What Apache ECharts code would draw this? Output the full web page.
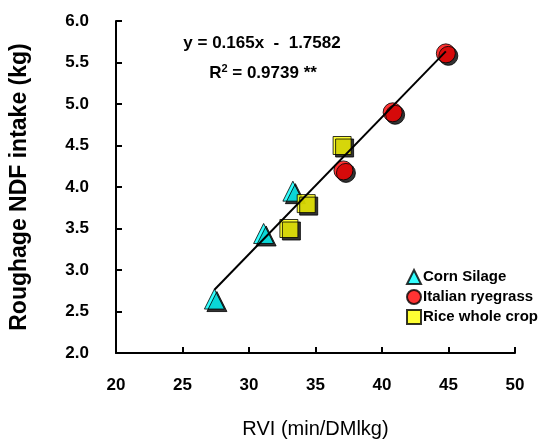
<!DOCTYPE html>
<html>
<head>
<meta charset="utf-8">
<script src="https://cdn.jsdelivr.net/npm/echarts@6/dist/echarts.min.js"></script>
<style>
html,body{margin:0;padding:0;background:#fff;}
#chart{width:542px;height:444px;}
</style>
</head>
<body>
<div id="chart"></div>
<script>
// ---- data ----
var cornSilage = [[27.4, 2.65], [31.1, 3.44], [33.3, 3.95]];
var italianRyegrass = [[37.1, 4.20], [40.8, 4.90], [44.8, 5.61]];
var riceWholeCrop = [[33.0, 3.50], [34.3, 3.80], [37.0, 4.50]];
var fitSlope = 0.165;
var fitIntercept = -1.7582;
var fitRange = [27.4, 44.8];
var xTicks = [20, 25, 30, 35, 40, 45, 50];
var yTicks = [2.0, 2.5, 3.0, 3.5, 4.0, 4.5, 5.0, 5.5, 6.0];
var seriesNames = ['Corn Silage', 'Italian ryegrass', 'Rice whole crop'];
var equationText = 'y = 0.165x  -  1.7582';
var r2Text = '0.9739 **';

var fitLine = fitRange.map(function (x) { return [x, fitSlope * x + fitIntercept]; });

var FONT = '"Liberation Sans", Arial, sans-serif';
var shadow = { shadowColor: '#000', shadowBlur: 0, shadowOffsetX: 2.5, shadowOffsetY: 2.5 };

function scatter(name, data, symbol, size, color) {
  return {
    name: name, type: 'scatter', data: data, symbol: symbol, symbolSize: size, z: 2,
    itemStyle: Object.assign({ color: color, borderColor: '#000', borderWidth: 1 }, shadow)
  };
}

var chart = echarts.init(document.getElementById('chart'), null, { renderer: 'canvas' });
chart.setOption({
  animation: false,
  backgroundColor: '#fff',
  grid: { left: 115, right: 27, top: 21, bottom: 84 },
  xAxis: {
    type: 'value', min: xTicks[0], max: xTicks[xTicks.length - 1], interval: 5,
    name: 'RVI (min/DMlkg)', nameLocation: 'middle', nameGap: 66,
    nameTextStyle: { fontFamily: FONT, fontSize: 20, color: '#000' },
    axisLine: { lineStyle: { color: '#000', width: 2 } },
    axisTick: { inside: true, length: 6, lineStyle: { color: '#000', width: 2 } },
    axisLabel: { margin: 24, fontFamily: FONT, fontWeight: 'bold', fontSize: 17, color: '#000' },
    splitLine: { show: false }
  },
  yAxis: {
    type: 'value', min: yTicks[0], max: yTicks[yTicks.length - 1], interval: 0.5,
    name: 'Roughage NDF intake (kg)', nameLocation: 'middle', nameGap: 85,
    nameTextStyle: { fontFamily: FONT, fontWeight: 'bold', fontSize: 23, color: '#000', padding: [0, 0, 0, 0] },
    axisLine: { lineStyle: { color: '#000', width: 2 } },
    axisTick: { inside: true, length: 6, lineStyle: { color: '#000', width: 2 } },
    axisLabel: { margin: 27, fontFamily: FONT, fontWeight: 'bold', fontSize: 17, color: '#000',
      padding: [8, 0, 0, 0],
      formatter: function (v) { return v.toFixed(1); } },
    splitLine: { show: false }
  },
  legend: {
    orient: 'vertical', left: 401, top: 264, itemGap: 4, itemWidth: 14, itemHeight: 14,
    data: seriesNames,
    textStyle: { fontFamily: FONT, fontWeight: 'bold', fontSize: 15, color: '#000', padding: [0, 0, 0, -3] }
  },
  graphic: [
    { type: 'text', x: 262, y: 35, style: { text: equationText, font: 'bold 17px ' + FONT, fill: '#000', align: 'center' } },
    { type: 'text', x: 263, y: 63, style: {
        text: '{a|R}{s|2}{a| = ' + r2Text + '}', align: 'center',
        rich: { a: { fontFamily: FONT, fontWeight: 'bold', fontSize: 17, color: '#000', verticalAlign: 'bottom' },
                s: { fontFamily: FONT, fontWeight: 'bold', fontSize: 11, color: '#000', verticalAlign: 'top', padding: [0, 0, 8, 0] } }
      } }
  ],
  series: [
    scatter(seriesNames[0], cornSilage, 'triangle', 20, '#00ffff'),
    scatter(seriesNames[1], italianRyegrass, 'circle', 19, '#ff0000'),
    scatter(seriesNames[2], riceWholeCrop, 'rect', 18, '#ffff00'),
    { type: 'line', data: fitLine, symbol: 'none', z: 5, silent: true,
      lineStyle: { color: '#000', width: 2 } }
  ]
});
</script>
</body>
</html>
